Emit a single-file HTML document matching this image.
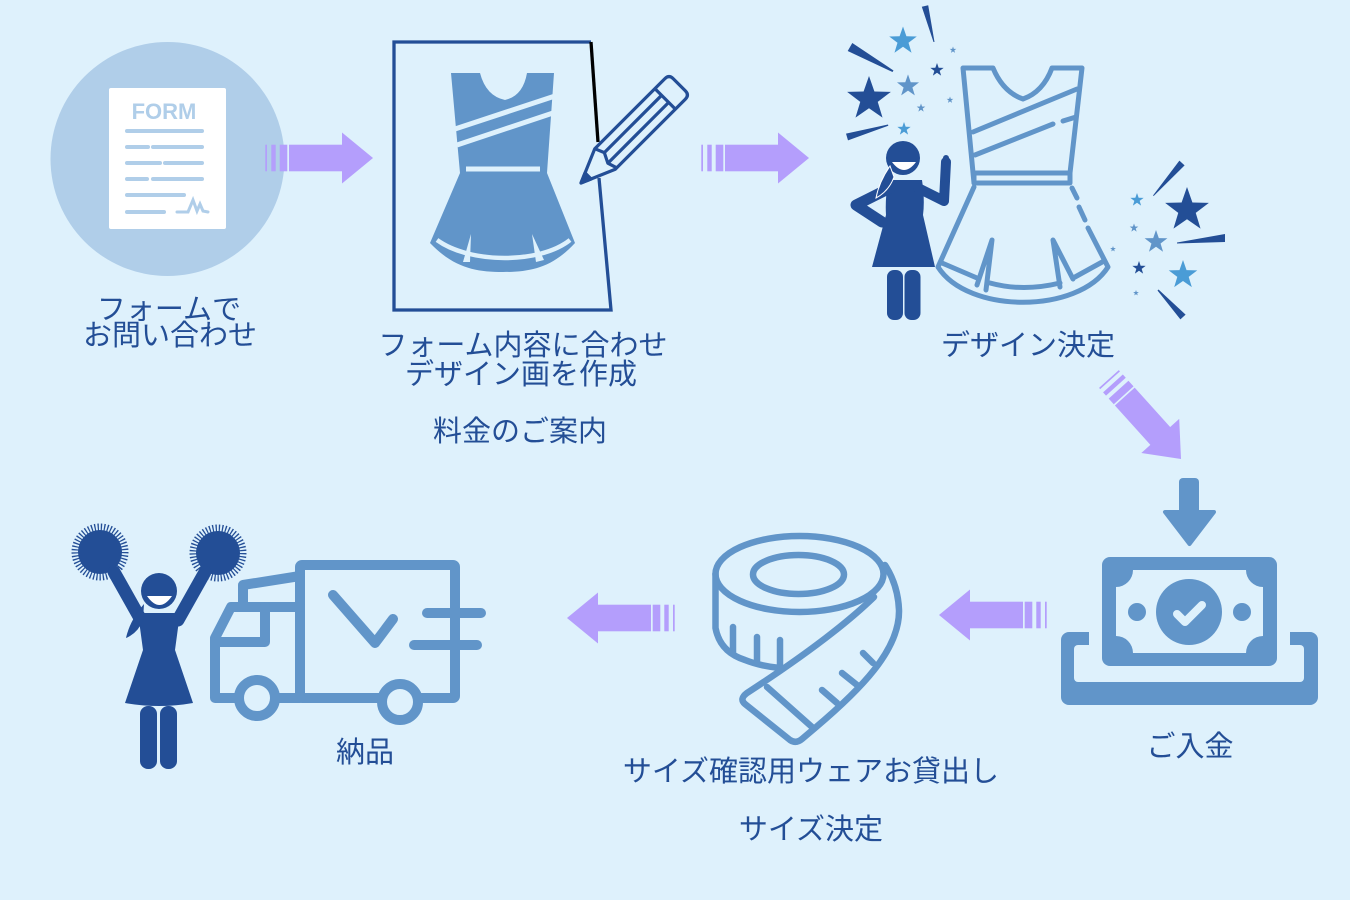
<!DOCTYPE html>
<html><head><meta charset="utf-8"><style>
html,body{margin:0;padding:0;background:#DEF1FC;}
svg{display:block;}
text{font-family:"Liberation Sans","Noto Sans CJK JP",sans-serif;fill:#234E96;font-size:29px;text-anchor:middle;}
</style></head><body>
<svg width="1350" height="900" viewBox="0 0 1350 900" xmlns="http://www.w3.org/2000/svg">
<defs>
<path id="star" d="M0,-1 L0.235,-0.324 L0.951,-0.309 L0.38,0.124 L0.588,0.809 L0,0.4 L-0.588,0.809 L-0.38,0.124 L-0.951,-0.309 L-0.235,-0.324Z"/>
<g id="arr" fill="#B49EFC">
<rect x="-107.7" y="-13.3" width="1.7" height="26.6"/>
<rect x="-101.7" y="-13.3" width="4.4" height="26.6"/>
<rect x="-93.3" y="-13.3" width="7.6" height="26.6"/>
<rect x="-84" y="-13.3" width="54" height="26.6"/>
<polygon points="-31,-25.5 0,0 -31,25.5"/>
</g>
</defs>
<rect width="1350" height="900" fill="#DEF1FC"/>

<!-- Step 1 -->
<circle cx="167.5" cy="159" r="117" fill="#B0CEE9"/>
<rect x="109" y="88" width="117" height="141" rx="2" fill="#fff"/>
<text x="164" y="119" style="font-family:'Liberation Sans',sans-serif;font-weight:bold;font-size:22px;fill:#B0CEE9">FORM</text>
<g stroke="#B0CEE9" stroke-width="4" stroke-linecap="round" fill="none">
<line x1="127" y1="131" x2="202" y2="131"/>
<line x1="127" y1="147" x2="148" y2="147"/><line x1="153" y1="147" x2="202" y2="147"/>
<line x1="127" y1="163" x2="160" y2="163"/><line x1="165" y1="163" x2="202" y2="163"/>
<line x1="127" y1="179" x2="147" y2="179"/><line x1="153" y1="179" x2="202" y2="179"/>
<line x1="127" y1="195" x2="184" y2="195"/>
<line x1="127" y1="212" x2="164" y2="212"/>
<path d="M177,212 L188,212 L193,200 L197,211 L200,204 L203,211 L208,212" stroke-width="3"/>
</g>
<text x="169" y="319">フォームで</text>
<text x="170" y="345">お問い合わせ</text>

<use href="#arr" transform="translate(373,158)"/>

<!-- Step 2 -->
<path d="M591,42 L394,42 L394,310 L611,310 L599,178" fill="none" stroke="#234E96" stroke-width="3.3"/>
<line x1="591" y1="42" x2="598" y2="142" stroke="#000" stroke-width="3.3"/>
<path d="M451,73 L480,73 Q486,96 505,100 Q523,96 527,73 L554,73 L547,173 L575,243 C552,268 530,272 503,272 C476,272 454,268 430,243 L460,173 Z" fill="#6195C9"/>
<g stroke="#DEF1FC" fill="none" stroke-width="5">
<line x1="455" y1="129" x2="555" y2="96"/>
<line x1="457" y1="145" x2="553" y2="113"/>
<line x1="466" y1="169" x2="540" y2="169"/>
<path d="M437,240 C470,264 540,264 570,240" stroke-width="4.5"/>
</g>
<polygon points="471,234 463,262 470,262" fill="#DEF1FC"/>
<polygon points="532,234 536,262 544,260" fill="#DEF1FC"/>
<g transform="translate(581,183) rotate(-45)" fill="none" stroke="#234E96" stroke-width="3.2" stroke-linejoin="round">
<path d="M0,0 L34,-14.5 L133,-14.5 Q139,-14.5 139,-8.5 L139,8.5 Q139,14.5 133,14.5 L34,14.5 Z" fill="#DEF1FC"/>
<path d="M34,-14.5 L38,-5 L33,5 L36,14.5"/>
<line x1="38" y1="-5" x2="119" y2="-5"/>
<line x1="33" y1="5" x2="119" y2="5"/>
<line x1="119" y1="-14.5" x2="119" y2="14.5"/>
<path d="M0,0 L10,-4.3 L10,4.3 Z" fill="#234E96"/>
</g>
<text x="523" y="355">フォーム内容に合わせ</text>
<text x="521" y="384">デザイン画を作成</text>
<text x="520" y="441">料金のご案内</text>

<use href="#arr" transform="translate(809,158)"/>

<!-- Step 3 -->
<g fill="none" stroke="#6195C9" stroke-width="5" stroke-linecap="round" stroke-linejoin="round">
<path d="M974,183 L963,68 L993,68 Q1003,92 1023,99 Q1043,92 1052,68 L1082,68 L1070,173"/>
<rect x="974" y="173" width="96" height="10"/>
<path d="M974,187 L938,267 C968,314 1078,314 1108,267 L1088,228"/>
<line x1="1072" y1="188" x2="1077" y2="198"/>
<line x1="1079" y1="207" x2="1085" y2="220"/>
<line x1="973" y1="132" x2="1077" y2="89"/>
<line x1="975" y1="155" x2="1053" y2="124"/>
<line x1="1063" y1="121" x2="1076" y2="117"/>
<path d="M942,263 L977,278"/>
<path d="M990,283 Q1023,292 1060,283"/>
<path d="M1075,277 L1104,261"/>
<path d="M977,285 L992,240 L986,290"/>
<path d="M1060,287 L1053,240 L1073,279"/>
</g>
<g fill="#234E96">
<circle cx="903" cy="158" r="17"/>
<path d="M888,180 L922,180 Q925,200 923,215 L935,267 L872,267 L886,215 Q885,200 888,180 Z"/>
<path d="M890,188 L856,205 L882,222" fill="none" stroke="#234E96" stroke-width="11" stroke-linecap="round" stroke-linejoin="round"/>
<path d="M918,188 L944,201 L946,162" fill="none" stroke="#234E96" stroke-width="10" stroke-linecap="round" stroke-linejoin="round"/>
<rect x="943" y="155" width="6" height="20" rx="3"/>
<rect x="887" y="270" width="16" height="50" rx="7"/>
<rect x="904.5" y="270" width="16" height="50" rx="7"/>
<path d="M890,166 Q879,182 876,198 Q889,191 894,177 Z" stroke="#fff" stroke-width="1"/>
</g>
<path d="M892,162 L916,162 Q904,178 892,162 Z" fill="#fff"/>
<!-- stars & rays -->
<g>
<use href="#star" transform="translate(869,99) scale(23)" fill="#234E96"/>
<use href="#star" transform="translate(903,41) scale(14.5)" fill="#4A9CD6"/>
<use href="#star" transform="translate(908,86) scale(11.6)" fill="#6195C9"/>
<use href="#star" transform="translate(937,70) scale(7)" fill="#234E96"/>
<use href="#star" transform="translate(953,50) scale(3.5)" fill="#6195C9"/>
<use href="#star" transform="translate(921,108) scale(4.5)" fill="#6195C9"/>
<use href="#star" transform="translate(950,100) scale(3.5)" fill="#6195C9"/>
<use href="#star" transform="translate(904,129) scale(7)" fill="#4A9CD6"/>
<use href="#star" transform="translate(1187,210) scale(23)" fill="#234E96"/>
<use href="#star" transform="translate(1183,275) scale(15)" fill="#4A9CD6"/>
<use href="#star" transform="translate(1156,242) scale(12)" fill="#6195C9"/>
<use href="#star" transform="translate(1137,200) scale(7)" fill="#4A9CD6"/>
<use href="#star" transform="translate(1134,228) scale(4.5)" fill="#6195C9"/>
<use href="#star" transform="translate(1139,268) scale(7)" fill="#234E96"/>
<use href="#star" transform="translate(1113,249) scale(3)" fill="#6195C9"/>
<use href="#star" transform="translate(1136,293) scale(3)" fill="#6195C9"/>
</g>
<g fill="#234E96">
<polygon points="847.7,51 852.3,43 893.5,70.5 892.5,72"/>
<polygon points="921.8,6.8 928.2,5.2 934.5,42 933.5,42"/>
<polygon points="848,140.4 846,133.6 888,124.5 888.3,125.7"/>
<polygon points="1184.6,165.4 1179.4,160.6 1153,195.5 1153.7,196"/>
<polygon points="1225,234 1225,242 1177,243.5 1177,242.5"/>
<polygon points="1157.5,290.5 1158.5,289.5 1185.6,314.6 1180.4,319.4"/>
</g>
<text x="1028" y="355">デザイン決定</text>

<use href="#arr" transform="translate(1181,459) rotate(48)"/>

<!-- Payment -->
<g fill="#6195C9">
<rect x="1179" y="478" width="20" height="40" rx="4"/>
<polygon points="1165,512 1214,512 1189.5,544" stroke="#6195C9" stroke-width="4" stroke-linejoin="round"/>
<rect x="1061" y="632" width="257" height="73" rx="8"/>
</g>
<rect x="1074" y="645" width="230" height="37" rx="4" fill="#DEF1FC"/>
<rect x="1089" y="628" width="201" height="18" fill="#DEF1FC"/>
<rect x="1102" y="557" width="175" height="109" rx="8" fill="#6195C9"/>
<path d="M1133,570 L1246,570 A17 17 0 0 0 1263,587 L1263,636 A17 17 0 0 0 1246,653 L1133,653 A17 17 0 0 0 1116,636 L1116,587 A17 17 0 0 0 1133,570 Z" fill="#DEF1FC"/>
<circle cx="1189" cy="612" r="33" fill="#6195C9"/>
<circle cx="1137" cy="612" r="9" fill="#6195C9"/>
<circle cx="1242" cy="612" r="9" fill="#6195C9"/>
<path d="M1177,614 L1185,622 L1202,605" fill="none" stroke="#DEF1FC" stroke-width="8" stroke-linecap="round" stroke-linejoin="round"/>
<text x="1190" y="756">ご入金</text>

<use href="#arr" transform="translate(939,615) scale(-1,1)"/>

<!-- Tape -->
<g fill="none" stroke="#6195C9" stroke-width="6.5" stroke-linecap="round" stroke-linejoin="round">
<ellipse cx="799.5" cy="574" rx="84" ry="38"/>
<ellipse cx="798.5" cy="574.5" rx="45.5" ry="19.5"/>
<path d="M715.5,574 L715.5,628 Q720,652 745,660 Q760,666 780,668"/>
<line x1="733" y1="627" x2="733" y2="652"/>
<line x1="757" y1="637" x2="757" y2="662"/>
<line x1="780" y1="640" x2="780" y2="667"/>
<path d="M874,597 C840,630 790,665 747,693 Q739,699 745,704 L790,740 Q796,744 802,739 L815,728 C860,690 900,650 899,610 Q898,585 885,565"/>
<line x1="767" y1="687" x2="812" y2="727"/>
<line x1="822" y1="690" x2="837" y2="703"/>
<line x1="842" y1="673" x2="857" y2="685"/>
<line x1="863" y1="653" x2="873" y2="663"/>
</g>
<text x="811" y="781">サイズ確認用ウェアお貸出し</text>
<text x="811" y="839">サイズ決定</text>

<use href="#arr" transform="translate(567,618) scale(-1,1)"/>

<!-- Cheerleader -->
<g fill="#234E96">
<circle cx="100" cy="552" r="22"/>
<circle cx="100" cy="552" r="25" fill="none" stroke="#234E96" stroke-width="7" stroke-dasharray="1.3 1.9"/>
<circle cx="218" cy="553" r="22"/>
<circle cx="218" cy="553" r="25" fill="none" stroke="#234E96" stroke-width="7" stroke-dasharray="1.3 1.9"/>
<path d="M114,572 L141,620 M205,572 L178,620" stroke="#234E96" stroke-width="13" stroke-linecap="round"/>
<circle cx="159" cy="591" r="18"/>
<path d="M138,613 L180,613 L175,650 L193,703 Q159,709 125,703 L143,650 Z"/>
<rect x="140" y="706" width="17" height="63" rx="8"/>
<rect x="160" y="706" width="17" height="63" rx="8"/>
<path d="M144,604 Q130,620 126,638 Q138,633 143,620 Z"/>
</g>
<path d="M147,596 L172,596 Q159.5,614 147,596 Z" fill="#fff"/>

<!-- Truck -->
<g fill="none" stroke="#6195C9" stroke-width="10" stroke-linecap="round" stroke-linejoin="round">
<rect x="300" y="565" width="155" height="133" rx="2"/>
<path d="M243,607 L243,585 L300,576"/>
<path d="M300,607 L231,607 L215,638 L215,698 L300,698"/>
<path d="M265,607 L265,642 L215,642"/>
<path d="M333,595 L375,643 L393,619"/>
<line x1="427" y1="613" x2="481" y2="613"/>
<line x1="414" y1="645" x2="477" y2="645"/>
<circle cx="257" cy="698" r="18" fill="#DEF1FC"/>
<circle cx="400" cy="702" r="18" fill="#DEF1FC"/>
</g>
<text x="365" y="762">納品</text>
</svg>
</body></html>
